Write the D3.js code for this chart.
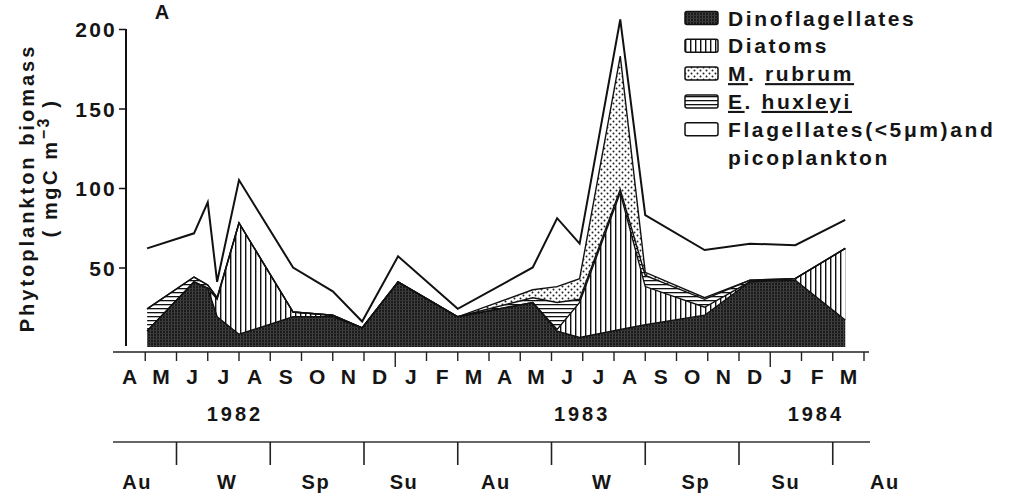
<!DOCTYPE html>
<html><head><meta charset="utf-8">
<script src="https://cdn.jsdelivr.net/npm/d3@7"></script>
<style>
html,body{margin:0;padding:0;background:#fff;}
svg text{font-family:"Liberation Sans",Arial,Helvetica,sans-serif;font-weight:bold;fill:#151515;}
</style></head>
<body><svg id="chart" width="1017" height="493"></svg>
<script>
// ---- data (time in months since 1 April 1982) ----
const sampleMonths = [1.06, 2.56, 3.0, 3.3, 4.0, 5.73, 7.0, 7.94, 9.09, 11.0, 13.4, 14.18, 14.9, 16.2, 17.0, 18.9, 20.35, 21.8, 23.4];
const totalBiomass = [62, 71.5, 91, 41, 105, 50, 35, 16, 57, 24, 50, 81, 65, 206, 83, 61, 65, 64, 80];
const dinoflagellates = [10, 41, 37, 19, 8, 19, 19, 12, 41, 19, 28, 10, 6, 11, 14, 20, 41, 42, 17];
const diatoms = [0, 0, 0, 11, 70, 3, 1, 0, 0, 0, 0, 1, 22, 86, 24, 5, 0, 1, 45];
const ehuxleyi = [14, 3, 2, 1, 0, 0, 0, 0, 0, 0, 3, 17, 2, 2, 7, 5, 1, 0, 0];
const mrubrum = [0, 0, 0, 0, 0, 0, 0, 0, 0, 0, 5, 10, 13, 84, 2, 1, 0, 0, 0];
const monthLabels = ["A","M","J","J","A","S","O","N","D","J","F","M","A","M","J","J","A","S","O","N","D","J","F","M"];
const yearLabels = ["1982","1983","1984"];
const yearCenters = [3.87, 14.98, 22.46];
const yearBoundaries = [9, 21];
const seasonLabels = ["Au","W","Sp","Su","Au","W","Sp","Su","Au"];
const seasonCenters = [0.74, 3.62, 6.46, 9.28, 12.22, 15.62, 18.62, 21.5, 24.67];
const seasonBoundaries = [2, 5, 8, 11, 14, 17, 20, 23];
const yTicks = [50, 100, 150, 200];
const seriesKeys = ["dino","diatoms","ehux","mrub","flag"];
const legendKeys = ["dino","diatoms","mrub","ehux","flag"];
const legendLabels = ["Dinoflagellates","Diatoms","M. rubrum","E. huxleyi","Flagellates(<5\u03bcm)and"];
const legendExtra = "picoplankton";

const rows = sampleMonths.map((t,i)=>{
  const flag = totalBiomass[i]-dinoflagellates[i]-diatoms[i]-ehuxleyi[i]-mrubrum[i];
  return {t, dino:dinoflagellates[i], diatoms:diatoms[i], ehux:ehuxleyi[i], mrub:mrubrum[i], flag};
});

const svg = d3.select("#chart");
const x = d3.scaleLinear().domain([0,24]).range([114,864]);
const y = d3.scaleLinear().domain([0,200]).range([347,29]);

// ---- patterns ----
const defs = svg.append("defs");
const pDino = defs.append("pattern").attr("id","p-dino").attr("patternUnits","userSpaceOnUse").attr("width",3).attr("height",3);
pDino.append("rect").attr("width",3).attr("height",3).attr("fill","#1a1a1a");
pDino.append("rect").attr("x",0).attr("y",0).attr("width",1).attr("height",3).attr("fill","#444");
pDino.append("rect").attr("x",0).attr("y",0).attr("width",3).attr("height",1).attr("fill","#363636");
const pDia = defs.append("pattern").attr("id","p-diatoms").attr("patternUnits","userSpaceOnUse").attr("width",5).attr("height",5);
pDia.append("rect").attr("width",5).attr("height",5).attr("fill","#fff");
pDia.append("rect").attr("x",0).attr("width",1.4).attr("height",5).attr("fill","#111");
const pMr = defs.append("pattern").attr("id","p-mrub").attr("patternUnits","userSpaceOnUse").attr("width",6).attr("height",6);
pMr.append("rect").attr("width",6).attr("height",6).attr("fill","#fff");
pMr.append("circle").attr("cx",1.5).attr("cy",1.5).attr("r",1).attr("fill","#222");
pMr.append("circle").attr("cx",4.5).attr("cy",4.5).attr("r",1).attr("fill","#222");
const pEh = defs.append("pattern").attr("id","p-ehux").attr("patternUnits","userSpaceOnUse").attr("width",4).attr("height",4);
pEh.append("rect").attr("width",4).attr("height",4).attr("fill","#fff");
pEh.append("rect").attr("y",0).attr("width",4).attr("height",1.3).attr("fill","#111");
const fills = {dino:"url(#p-dino)", diatoms:"url(#p-diatoms)", mrub:"url(#p-mrub)", ehux:"url(#p-ehux)", flag:"#fff"};

// ---- stacked areas ----
const stack = d3.stack().keys(seriesKeys);
const layers = stack(rows);
const area = d3.area().x(d=>x(d.data.t)).y0(d=>y(d[0])).y1(d=>y(d[1]));
const topLine = d3.line().x(d=>x(d.data.t)).y(d=>y(d[1]));
const g = svg.append("g");
g.selectAll("path.area").data(layers).join("path").attr("class","area")
  .attr("d",area).attr("fill",d=>fills[d.key]).attr("stroke","none");
g.selectAll("path.edge").data(layers).join("path").attr("class","edge")
  .attr("d",topLine).attr("fill","none").attr("stroke","#111")
  .attr("stroke-width",d=>d.key==="flag"?2:1.4).attr("stroke-linejoin","miter");

// ---- y axis ----
const yAxis = svg.append("g").attr("transform","translate(126,0)")
  .call(d3.axisLeft(y).tickValues(yTicks).tickSize(7).tickPadding(2).tickFormat(d3.format("d")));
yAxis.select(".domain").remove();
yAxis.selectAll(".tick line").attr("stroke","#111").attr("stroke-width",1.5);
yAxis.selectAll(".tick text").style("font-size","21px").style("letter-spacing","2.2px")
  .attr("dy","0.36em").attr("fill","#151515");
svg.append("line").attr("x1",126).attr("x2",126).attr("y1",y(200)).attr("y2",y(0)-1)
  .attr("stroke","#111").attr("stroke-width",2);

// y title
svg.append("text").attr("transform","translate(34,188) rotate(-90)").attr("text-anchor","middle")
  .style("font-size","20px").style("letter-spacing","3px").text("Phytoplankton biomass");
const t2 = svg.append("text").attr("transform","translate(57,168) rotate(-90)").attr("text-anchor","middle")
  .style("font-size","20px").style("letter-spacing","2.6px");
t2.append("tspan").text("( mgC m");
t2.append("tspan").attr("baseline-shift","super").style("font-size","16px").text("\u22123");
t2.append("tspan").text(" )");

// panel letter
svg.append("text").attr("x",162).attr("y",19).attr("text-anchor","middle")
  .style("font-size","20px").text("A");

// ---- month axis ----
const mAxisY = 352;
svg.append("line").attr("x1",x(0)-1).attr("x2",x(24)+5).attr("y1",mAxisY).attr("y2",mAxisY)
  .attr("stroke","#222").attr("stroke-width",1.5);
svg.selectAll("line.mtick").data(d3.range(1,25)).join("line").attr("class","mtick")
  .attr("x1",d=>x(d)).attr("x2",d=>x(d)).attr("y1",mAxisY)
  .attr("y2",d=>yearBoundaries.includes(d)?367:361).attr("stroke","#222").attr("stroke-width",1.4);
svg.selectAll("text.month").data(monthLabels).join("text").attr("class","month")
  .attr("x",(d,i)=>x(i+0.5)).attr("y",384).attr("text-anchor","middle")
  .style("font-size","21px").text(d=>d);
svg.selectAll("text.year").data(yearLabels).join("text").attr("class","year")
  .attr("x",(d,i)=>x(yearCenters[i])).attr("y",421).attr("text-anchor","middle")
  .style("font-size","20px").style("letter-spacing","3px").text(d=>d);

// ---- season axis ----
const sAxisY = 442;
svg.append("line").attr("x1",x(0)-1).attr("x2",x(24)+6).attr("y1",sAxisY).attr("y2",sAxisY)
  .attr("stroke","#333").attr("stroke-width",1.5);
svg.selectAll("line.stick").data(seasonBoundaries).join("line").attr("class","stick")
  .attr("x1",d=>x(d)).attr("x2",d=>x(d)).attr("y1",sAxisY).attr("y2",465)
  .attr("stroke","#222").attr("stroke-width",1.6);
svg.selectAll("text.season").data(seasonLabels).join("text").attr("class","season")
  .attr("x",(d,i)=>x(seasonCenters[i])).attr("y",489).attr("text-anchor","middle")
  .style("font-size","20px").style("letter-spacing","1.5px").text(d=>d);

// ---- legend ----
const lg = svg.append("g");
const rowY = i => 18 + i*27.8;
legendKeys.forEach((k,i)=>{
  lg.append("rect").attr("x",685).attr("y",rowY(i)-6.5).attr("width",33).attr("height",13)
    .attr("rx",2).attr("fill",fills[k]).attr("stroke","#111").attr("stroke-width",1.5);
  const txt = lg.append("text").attr("x",728).attr("y",rowY(i)+7.5)
    .style("font-size","21px").style("letter-spacing","2.6px");
  const lab = legendLabels[i];
  if (k==="mrub" || k==="ehux") {
    const parts = lab.split(". ");
    txt.append("tspan").style("text-decoration","underline").text(parts[0]);
    txt.append("tspan").text(". ");
    txt.append("tspan").style("text-decoration","underline").text(parts[1]);
  } else {
    txt.text(lab);
  }
});
lg.append("text").attr("x",728).attr("y",rowY(5)+7.5).style("font-size","21px")
  .style("letter-spacing","2.6px").text(legendExtra);
</script></body></html>
